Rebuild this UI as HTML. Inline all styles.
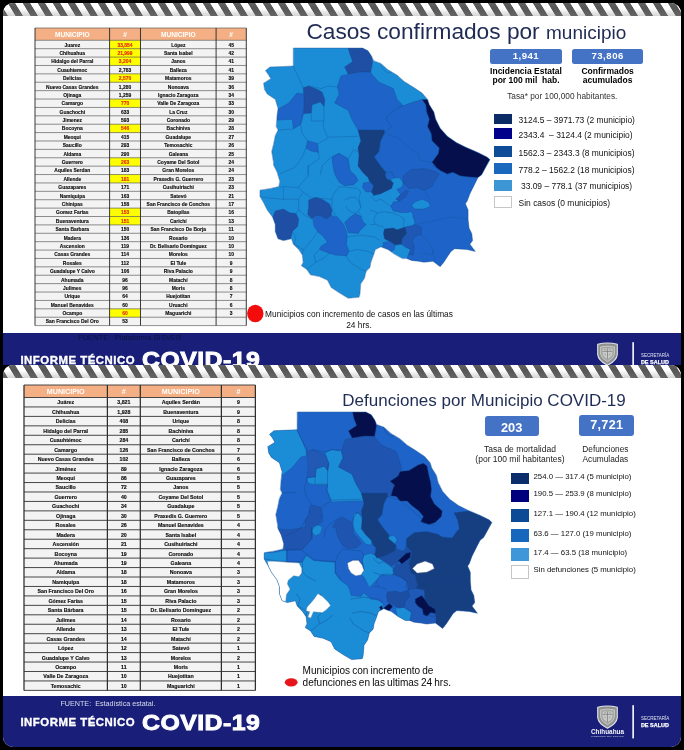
<!DOCTYPE html>
<html lang="es"><head><meta charset="utf-8"><title>Informe Técnico COVID-19</title>
<style>
html,body{margin:0;padding:0;background:#000;}
body{width:684px;height:750px;position:relative;overflow:hidden;font-family:"Liberation Sans",Arial,sans-serif;color:#000;}
.slide{position:absolute;left:3px;width:678px;background:#fff;border-radius:10px;overflow:hidden;}
.in{position:absolute;left:-3px;width:684px;}
.stripes{position:absolute;left:0;top:0;width:686px;height:12.8px;
 background:linear-gradient(to bottom,rgba(255,255,255,.06) 0,rgba(150,150,150,.0) 40%,rgba(130,130,130,.35) 100%),
 repeating-linear-gradient(58.7deg,#565656 0,#565656 5.6px,#fff 6.3px,#fff 12.12px,#565656 12.82px);}
.abs{position:absolute;}
svg.tbl{position:absolute;overflow:visible;}
svg.tbl text{font-family:"Liberation Sans",Arial,sans-serif;font-weight:bold;text-anchor:middle;}
svg.tbl .th{fill:#fff;}
svg.tbl .td{fill:#0c0c0c;stroke:#0c0c0c;stroke-width:.14px;}
svg.tbl .red{fill:#e22a0c;stroke:#e22a0c;}
.title{position:absolute;white-space:nowrap;color:#1f2a55;}
.box{position:absolute;background:#4472c4;border-radius:2.5px;color:#fff;font-weight:bold;text-align:center;}
.lbl{position:absolute;text-align:center;white-space:nowrap;}
.lb{position:absolute;}
.lt{position:absolute;white-space:nowrap;line-height:12px;color:#111;}
.banner{position:absolute;left:0;width:684px;background:#191f78;}
.inf{position:absolute;left:20.4px;color:#fff;font-weight:bold;font-size:11.4px;letter-spacing:.52px;line-height:14px;white-space:nowrap;-webkit-text-stroke:.35px #fff;}
.cov{position:absolute;left:142.2px;color:#fff;font-weight:bold;font-size:22.2px;letter-spacing:.4px;line-height:28px;white-space:nowrap;-webkit-text-stroke:.9px #fff;transform-origin:0 50%;transform:scaleX(1.12);}
.map{position:absolute;overflow:visible;}
</style></head><body>

<!-- slide 1 -->
<div class="slide" style="top:3px;height:362.2px;border-radius:10px 10px 0 0"><div class="in" style="top:-3px;height:750px">
<div class="stripes" style="left:0.6px;top:3px"></div>
<svg class="tbl" style="left:32.8px;top:26px" width="215.30" height="301.60" viewBox="32.8 26 215.30 301.60">
<rect x="34.8" y="28" width="211.30" height="12.30" fill="#f4b084"/>
<rect x="34.8" y="40.3" width="211.30" height="285.30" fill="#f3f3f3"/>
<rect x="109.4" y="40.30" width="30.90" height="8.39" fill="#ffff00"/>
<rect x="109.4" y="48.69" width="30.90" height="8.39" fill="#ffff00"/>
<rect x="109.4" y="57.08" width="30.90" height="8.39" fill="#ffff00"/>
<rect x="109.4" y="73.86" width="30.90" height="8.39" fill="#ffff00"/>
<rect x="109.4" y="99.04" width="30.90" height="8.39" fill="#ffff00"/>
<rect x="109.4" y="124.21" width="30.90" height="8.39" fill="#ffff00"/>
<rect x="109.4" y="157.78" width="30.90" height="8.39" fill="#ffff00"/>
<rect x="109.4" y="174.56" width="30.90" height="8.39" fill="#ffff00"/>
<rect x="109.4" y="208.12" width="30.90" height="8.39" fill="#ffff00"/>
<rect x="109.4" y="216.51" width="30.90" height="8.39" fill="#ffff00"/>
<rect x="109.4" y="308.82" width="30.90" height="8.39" fill="#ffff00"/>
<path d="M34.8 40.30H246.1M34.8 48.69H246.1M34.8 57.08H246.1M34.8 65.47H246.1M34.8 73.86H246.1M34.8 82.26H246.1M34.8 90.65H246.1M34.8 99.04H246.1M34.8 107.43H246.1M34.8 115.82H246.1M34.8 124.21H246.1M34.8 132.60H246.1M34.8 140.99H246.1M34.8 149.39H246.1M34.8 157.78H246.1M34.8 166.17H246.1M34.8 174.56H246.1M34.8 182.95H246.1M34.8 191.34H246.1M34.8 199.73H246.1M34.8 208.12H246.1M34.8 216.51H246.1M34.8 224.91H246.1M34.8 233.30H246.1M34.8 241.69H246.1M34.8 250.08H246.1M34.8 258.47H246.1M34.8 266.86H246.1M34.8 275.25H246.1M34.8 283.64H246.1M34.8 292.04H246.1M34.8 300.43H246.1M34.8 308.82H246.1M34.8 317.21H246.1M34.8 325.60H246.1M34.8 28H246.1" stroke="#444" stroke-width="0.6" fill="none"/>
<path d="M34.8 28V325.6M109.4 28V325.6M140.3 28V325.6M215.9 28V325.6M246.1 28V325.6" stroke="#2e2e2e" stroke-width="0.95" fill="none"/>
<text class="th" x="72.10" y="36.53" font-size="6.6">MUNICIPIO</text>
<text class="th" x="124.85" y="36.53" font-size="6.6">#</text>
<text class="th" x="178.10" y="36.53" font-size="6.6">MUNICIPIO</text>
<text class="th" x="231.00" y="36.53" font-size="6.6">#</text>
<text class="td" transform="translate(72.10 46.58) scale(0.855 1)" font-size="5.8">Juarez</text>
<text class="td red" transform="translate(124.85 46.58) scale(0.855 1)" font-size="5.8">33,854</text>
<text class="td" transform="translate(178.10 46.58) scale(0.855 1)" font-size="5.8">López</text>
<text class="td" transform="translate(231.00 46.58) scale(0.855 1)" font-size="5.8">45</text>
<text class="td" transform="translate(72.10 54.97) scale(0.855 1)" font-size="5.8">Chihuahua</text>
<text class="td red" transform="translate(124.85 54.97) scale(0.855 1)" font-size="5.8">21,999</text>
<text class="td" transform="translate(178.10 54.97) scale(0.855 1)" font-size="5.8">Santa Isabel</text>
<text class="td" transform="translate(231.00 54.97) scale(0.855 1)" font-size="5.8">42</text>
<text class="td" transform="translate(72.10 63.37) scale(0.855 1)" font-size="5.8">Hidalgo del Parral</text>
<text class="td red" transform="translate(124.85 63.37) scale(0.855 1)" font-size="5.8">3,204</text>
<text class="td" transform="translate(178.10 63.37) scale(0.855 1)" font-size="5.8">Janos</text>
<text class="td" transform="translate(231.00 63.37) scale(0.855 1)" font-size="5.8">41</text>
<text class="td" transform="translate(72.10 71.76) scale(0.855 1)" font-size="5.8">Cuauhtemoc</text>
<text class="td" transform="translate(124.85 71.76) scale(0.855 1)" font-size="5.8">2,783</text>
<text class="td" transform="translate(178.10 71.76) scale(0.855 1)" font-size="5.8">Balleza</text>
<text class="td" transform="translate(231.00 71.76) scale(0.855 1)" font-size="5.8">41</text>
<text class="td" transform="translate(72.10 80.15) scale(0.855 1)" font-size="5.8">Delicias</text>
<text class="td red" transform="translate(124.85 80.15) scale(0.855 1)" font-size="5.8">2,570</text>
<text class="td" transform="translate(178.10 80.15) scale(0.855 1)" font-size="5.8">Matamoros</text>
<text class="td" transform="translate(231.00 80.15) scale(0.855 1)" font-size="5.8">39</text>
<text class="td" transform="translate(72.10 88.54) scale(0.855 1)" font-size="5.8">Nuevo Casas Grandes</text>
<text class="td" transform="translate(124.85 88.54) scale(0.855 1)" font-size="5.8">1,280</text>
<text class="td" transform="translate(178.10 88.54) scale(0.855 1)" font-size="5.8">Nonoava</text>
<text class="td" transform="translate(231.00 88.54) scale(0.855 1)" font-size="5.8">36</text>
<text class="td" transform="translate(72.10 96.93) scale(0.855 1)" font-size="5.8">Ojinaga</text>
<text class="td" transform="translate(124.85 96.93) scale(0.855 1)" font-size="5.8">1,259</text>
<text class="td" transform="translate(178.10 96.93) scale(0.855 1)" font-size="5.8">Ignacio Zaragoza</text>
<text class="td" transform="translate(231.00 96.93) scale(0.855 1)" font-size="5.8">34</text>
<text class="td" transform="translate(72.10 105.32) scale(0.855 1)" font-size="5.8">Camargo</text>
<text class="td red" transform="translate(124.85 105.32) scale(0.855 1)" font-size="5.8">770</text>
<text class="td" transform="translate(178.10 105.32) scale(0.855 1)" font-size="5.8">Valle De Zaragoza</text>
<text class="td" transform="translate(231.00 105.32) scale(0.855 1)" font-size="5.8">33</text>
<text class="td" transform="translate(72.10 113.71) scale(0.855 1)" font-size="5.8">Guachochi</text>
<text class="td" transform="translate(124.85 113.71) scale(0.855 1)" font-size="5.8">633</text>
<text class="td" transform="translate(178.10 113.71) scale(0.855 1)" font-size="5.8">La Cruz</text>
<text class="td" transform="translate(231.00 113.71) scale(0.855 1)" font-size="5.8">30</text>
<text class="td" transform="translate(72.10 122.10) scale(0.855 1)" font-size="5.8">Jimenez</text>
<text class="td" transform="translate(124.85 122.10) scale(0.855 1)" font-size="5.8">593</text>
<text class="td" transform="translate(178.10 122.10) scale(0.855 1)" font-size="5.8">Coronado</text>
<text class="td" transform="translate(231.00 122.10) scale(0.855 1)" font-size="5.8">29</text>
<text class="td" transform="translate(72.10 130.50) scale(0.855 1)" font-size="5.8">Bocoyna</text>
<text class="td red" transform="translate(124.85 130.50) scale(0.855 1)" font-size="5.8">546</text>
<text class="td" transform="translate(178.10 130.50) scale(0.855 1)" font-size="5.8">Bachíniva</text>
<text class="td" transform="translate(231.00 130.50) scale(0.855 1)" font-size="5.8">28</text>
<text class="td" transform="translate(72.10 138.89) scale(0.855 1)" font-size="5.8">Meoqui</text>
<text class="td" transform="translate(124.85 138.89) scale(0.855 1)" font-size="5.8">415</text>
<text class="td" transform="translate(178.10 138.89) scale(0.855 1)" font-size="5.8">Guadalupe</text>
<text class="td" transform="translate(231.00 138.89) scale(0.855 1)" font-size="5.8">27</text>
<text class="td" transform="translate(72.10 147.28) scale(0.855 1)" font-size="5.8">Saucillo</text>
<text class="td" transform="translate(124.85 147.28) scale(0.855 1)" font-size="5.8">293</text>
<text class="td" transform="translate(178.10 147.28) scale(0.855 1)" font-size="5.8">Temosachic</text>
<text class="td" transform="translate(231.00 147.28) scale(0.855 1)" font-size="5.8">26</text>
<text class="td" transform="translate(72.10 155.67) scale(0.855 1)" font-size="5.8">Aldama</text>
<text class="td" transform="translate(124.85 155.67) scale(0.855 1)" font-size="5.8">290</text>
<text class="td" transform="translate(178.10 155.67) scale(0.855 1)" font-size="5.8">Galeana</text>
<text class="td" transform="translate(231.00 155.67) scale(0.855 1)" font-size="5.8">25</text>
<text class="td" transform="translate(72.10 164.06) scale(0.855 1)" font-size="5.8">Guerrero</text>
<text class="td red" transform="translate(124.85 164.06) scale(0.855 1)" font-size="5.8">263</text>
<text class="td" transform="translate(178.10 164.06) scale(0.855 1)" font-size="5.8">Coyame Del Sotol</text>
<text class="td" transform="translate(231.00 164.06) scale(0.855 1)" font-size="5.8">24</text>
<text class="td" transform="translate(72.10 172.45) scale(0.855 1)" font-size="5.8">Aquiles Serdan</text>
<text class="td" transform="translate(124.85 172.45) scale(0.855 1)" font-size="5.8">183</text>
<text class="td" transform="translate(178.10 172.45) scale(0.855 1)" font-size="5.8">Gran Morelos</text>
<text class="td" transform="translate(231.00 172.45) scale(0.855 1)" font-size="5.8">24</text>
<text class="td" transform="translate(72.10 180.84) scale(0.855 1)" font-size="5.8">Allende</text>
<text class="td red" transform="translate(124.85 180.84) scale(0.855 1)" font-size="5.8">181</text>
<text class="td" transform="translate(178.10 180.84) scale(0.855 1)" font-size="5.8">Praxedis G. Guerrero</text>
<text class="td" transform="translate(231.00 180.84) scale(0.855 1)" font-size="5.8">23</text>
<text class="td" transform="translate(72.10 189.23) scale(0.855 1)" font-size="5.8">Guazapares</text>
<text class="td" transform="translate(124.85 189.23) scale(0.855 1)" font-size="5.8">171</text>
<text class="td" transform="translate(178.10 189.23) scale(0.855 1)" font-size="5.8">Cusihuiriachi</text>
<text class="td" transform="translate(231.00 189.23) scale(0.855 1)" font-size="5.8">23</text>
<text class="td" transform="translate(72.10 197.62) scale(0.855 1)" font-size="5.8">Namiquipa</text>
<text class="td" transform="translate(124.85 197.62) scale(0.855 1)" font-size="5.8">163</text>
<text class="td" transform="translate(178.10 197.62) scale(0.855 1)" font-size="5.8">Satevó</text>
<text class="td" transform="translate(231.00 197.62) scale(0.855 1)" font-size="5.8">21</text>
<text class="td" transform="translate(72.10 206.02) scale(0.855 1)" font-size="5.8">Chinipas</text>
<text class="td" transform="translate(124.85 206.02) scale(0.855 1)" font-size="5.8">158</text>
<text class="td" transform="translate(178.10 206.02) scale(0.855 1)" font-size="5.8">San Francisco de Conchos</text>
<text class="td" transform="translate(231.00 206.02) scale(0.855 1)" font-size="5.8">17</text>
<text class="td" transform="translate(72.10 214.41) scale(0.855 1)" font-size="5.8">Gomez Farias</text>
<text class="td red" transform="translate(124.85 214.41) scale(0.855 1)" font-size="5.8">153</text>
<text class="td" transform="translate(178.10 214.41) scale(0.855 1)" font-size="5.8">Batopilas</text>
<text class="td" transform="translate(231.00 214.41) scale(0.855 1)" font-size="5.8">16</text>
<text class="td" transform="translate(72.10 222.80) scale(0.855 1)" font-size="5.8">Buenaventura</text>
<text class="td red" transform="translate(124.85 222.80) scale(0.855 1)" font-size="5.8">151</text>
<text class="td" transform="translate(178.10 222.80) scale(0.855 1)" font-size="5.8">Carichí</text>
<text class="td" transform="translate(231.00 222.80) scale(0.855 1)" font-size="5.8">13</text>
<text class="td" transform="translate(72.10 231.19) scale(0.855 1)" font-size="5.8">Santa Barbara</text>
<text class="td" transform="translate(124.85 231.19) scale(0.855 1)" font-size="5.8">150</text>
<text class="td" transform="translate(178.10 231.19) scale(0.855 1)" font-size="5.8">San Francisco De Borja</text>
<text class="td" transform="translate(231.00 231.19) scale(0.855 1)" font-size="5.8">11</text>
<text class="td" transform="translate(72.10 239.58) scale(0.855 1)" font-size="5.8">Madera</text>
<text class="td" transform="translate(124.85 239.58) scale(0.855 1)" font-size="5.8">136</text>
<text class="td" transform="translate(178.10 239.58) scale(0.855 1)" font-size="5.8">Rosario</text>
<text class="td" transform="translate(231.00 239.58) scale(0.855 1)" font-size="5.8">10</text>
<text class="td" transform="translate(72.10 247.97) scale(0.855 1)" font-size="5.8">Ascension</text>
<text class="td" transform="translate(124.85 247.97) scale(0.855 1)" font-size="5.8">119</text>
<text class="td" transform="translate(178.10 247.97) scale(0.855 1)" font-size="5.8">Dr. Belisario Domínguez</text>
<text class="td" transform="translate(231.00 247.97) scale(0.855 1)" font-size="5.8">10</text>
<text class="td" transform="translate(72.10 256.36) scale(0.855 1)" font-size="5.8">Casas Grandes</text>
<text class="td" transform="translate(124.85 256.36) scale(0.855 1)" font-size="5.8">114</text>
<text class="td" transform="translate(178.10 256.36) scale(0.855 1)" font-size="5.8">Morelos</text>
<text class="td" transform="translate(231.00 256.36) scale(0.855 1)" font-size="5.8">10</text>
<text class="td" transform="translate(72.10 264.75) scale(0.855 1)" font-size="5.8">Rosales</text>
<text class="td" transform="translate(124.85 264.75) scale(0.855 1)" font-size="5.8">112</text>
<text class="td" transform="translate(178.10 264.75) scale(0.855 1)" font-size="5.8">El Tule</text>
<text class="td" transform="translate(231.00 264.75) scale(0.855 1)" font-size="5.8">9</text>
<text class="td" transform="translate(72.10 273.15) scale(0.855 1)" font-size="5.8">Guadalupe Y Calvo</text>
<text class="td" transform="translate(124.85 273.15) scale(0.855 1)" font-size="5.8">106</text>
<text class="td" transform="translate(178.10 273.15) scale(0.855 1)" font-size="5.8">Riva Palacio</text>
<text class="td" transform="translate(231.00 273.15) scale(0.855 1)" font-size="5.8">9</text>
<text class="td" transform="translate(72.10 281.54) scale(0.855 1)" font-size="5.8">Ahumada</text>
<text class="td" transform="translate(124.85 281.54) scale(0.855 1)" font-size="5.8">96</text>
<text class="td" transform="translate(178.10 281.54) scale(0.855 1)" font-size="5.8">Matachí</text>
<text class="td" transform="translate(231.00 281.54) scale(0.855 1)" font-size="5.8">8</text>
<text class="td" transform="translate(72.10 289.93) scale(0.855 1)" font-size="5.8">Julimes</text>
<text class="td" transform="translate(124.85 289.93) scale(0.855 1)" font-size="5.8">96</text>
<text class="td" transform="translate(178.10 289.93) scale(0.855 1)" font-size="5.8">Moris</text>
<text class="td" transform="translate(231.00 289.93) scale(0.855 1)" font-size="5.8">8</text>
<text class="td" transform="translate(72.10 298.32) scale(0.855 1)" font-size="5.8">Urique</text>
<text class="td" transform="translate(124.85 298.32) scale(0.855 1)" font-size="5.8">64</text>
<text class="td" transform="translate(178.10 298.32) scale(0.855 1)" font-size="5.8">Huejotitan</text>
<text class="td" transform="translate(231.00 298.32) scale(0.855 1)" font-size="5.8">7</text>
<text class="td" transform="translate(72.10 306.71) scale(0.855 1)" font-size="5.8">Manuel Benavides</text>
<text class="td" transform="translate(124.85 306.71) scale(0.855 1)" font-size="5.8">60</text>
<text class="td" transform="translate(178.10 306.71) scale(0.855 1)" font-size="5.8">Uruachi</text>
<text class="td" transform="translate(231.00 306.71) scale(0.855 1)" font-size="5.8">6</text>
<text class="td" transform="translate(72.10 315.10) scale(0.855 1)" font-size="5.8">Ocampo</text>
<text class="td red" transform="translate(124.85 315.10) scale(0.855 1)" font-size="5.8">60</text>
<text class="td" transform="translate(178.10 315.10) scale(0.855 1)" font-size="5.8">Maguarichi</text>
<text class="td" transform="translate(231.00 315.10) scale(0.855 1)" font-size="5.8">3</text>
<text class="td" transform="translate(72.10 323.49) scale(0.855 1)" font-size="5.8">San Francisco Del Oro</text>
<text class="td" transform="translate(124.85 323.49) scale(0.855 1)" font-size="5.8">53</text>
</svg>
<div class="title" style="left:306.4px;top:17.6px;font-size:22.7px;line-height:26px">Casos confirmados por <span style="font-size:19px">municipio</span></div>
<svg class="map" style="left:255px;top:44px" width="240" height="260" viewBox="255 44 240 260">
<defs><clipPath id="c1"><path d="M293.3 48.1L362.6 48.1L368.0 50.8L371.6 56.2L373.6 60.7L380.8 63.4L388.0 69.7L397.0 75.1L404.2 81.4L413.2 87.1L422.2 93.1L427.6 99.4L429.4 104.8L433.9 112.0L435.7 119.2L440.2 128.2L447.4 136.3L456.4 142.6L465.4 147.1L478.0 152.5L487.0 157.0L490.0 159.6L487.0 165.0L481.6 174.9L478.0 177.6L474.4 184.8L469.9 193.8L467.2 201.0L465.4 203.7L468.1 210.0L468.1 219.0L469.0 228.0L471.7 233.4L472.6 240.6L469.9 244.2L475.3 251.4L467.2 249.6L454.6 248.7L451.0 251.4L447.4 256.8L443.8 262.2L440.2 266.7L433.0 261.3L424.0 262.2L418.6 261.3L411.4 260.4L406.9 258.6L402.4 258.6L394.3 254.1L388.0 249.6L380.8 246.9L375.4 249.6L373.6 255.0L370.9 262.2L370.0 267.6L366.2 271.2L364.4 278.4L360.8 283.8L359.9 294.6L359.0 297.3L348.2 298.2L339.2 292.8L331.1 287.4L327.5 280.2L319.4 276.6L310.4 274.8L306.8 269.4L301.4 265.8L303.2 262.2L302.3 255.0L298.7 249.6L293.3 244.2L291.5 238.8L283.4 240.6L278.0 238.8L275.3 231.6L275.3 224.4L272.6 217.2L267.2 210.0L263.6 202.8L260.0 196.5L260.0 190.2L270.8 188.4L278.9 186.6L279.8 181.2L277.1 172.2L273.5 165.0L273.5 162.3L271.7 151.6L273.5 144.4L275.3 135.4L278.0 130.0L276.2 126.4L277.1 115.6L278.0 108.4L275.3 99.4L267.2 94.0L264.5 89.5L263.6 83.2L270.8 78.7L268.1 74.2L265.4 70.6L269.9 67.0L293.3 66.1Z"/></clipPath></defs>
<g clip-path="url(#c1)">
<path d="M293.3 48.1L362.6 48.1L368.0 50.8L371.6 56.2L373.6 60.7L380.8 63.4L388.0 69.7L397.0 75.1L404.2 81.4L413.2 87.1L422.2 93.1L427.6 99.4L429.4 104.8L433.9 112.0L435.7 119.2L440.2 128.2L447.4 136.3L456.4 142.6L465.4 147.1L478.0 152.5L487.0 157.0L490.0 159.6L487.0 165.0L481.6 174.9L478.0 177.6L474.4 184.8L469.9 193.8L467.2 201.0L465.4 203.7L468.1 210.0L468.1 219.0L469.0 228.0L471.7 233.4L472.6 240.6L469.9 244.2L475.3 251.4L467.2 249.6L454.6 248.7L451.0 251.4L447.4 256.8L443.8 262.2L440.2 266.7L433.0 261.3L424.0 262.2L418.6 261.3L411.4 260.4L406.9 258.6L402.4 258.6L394.3 254.1L388.0 249.6L380.8 246.9L375.4 249.6L373.6 255.0L370.9 262.2L370.0 267.6L366.2 271.2L364.4 278.4L360.8 283.8L359.9 294.6L359.0 297.3L348.2 298.2L339.2 292.8L331.1 287.4L327.5 280.2L319.4 276.6L310.4 274.8L306.8 269.4L301.4 265.8L303.2 262.2L302.3 255.0L298.7 249.6L293.3 244.2L291.5 238.8L283.4 240.6L278.0 238.8L275.3 231.6L275.3 224.4L272.6 217.2L267.2 210.0L263.6 202.8L260.0 196.5L260.0 190.2L270.8 188.4L278.9 186.6L279.8 181.2L277.1 172.2L273.5 165.0L273.5 162.3L271.7 151.6L273.5 144.4L275.3 135.4L278.0 130.0L276.2 126.4L277.1 115.6L278.0 108.4L275.3 99.4L267.2 94.0L264.5 89.5L263.6 83.2L270.8 78.7L268.1 74.2L265.4 70.6L269.9 67.0L293.3 66.1Z" fill="#1b8cd6"/>
<path d="M348.2 48.1L362.6 48.1L368.0 50.8L371.6 56.2L372.5 62.5L370.7 72.4L360.8 72.0L348.2 74.2L344.6 67.0L352.7 61.6L350.0 54.4Z" fill="#1f4fa5" stroke="#134a8e" stroke-width="0.35" stroke-linejoin="round"/>
<path d="M341.0 76.0L348.2 74.2L360.8 72.0L370.7 72.4L371.8 74.2L379.0 82.3L393.4 88.6L397.0 99.4L403.3 105.7L397.0 108.4L388.0 115.6L386.2 119.2L391.6 126.4L386.2 131.8L384.4 133.6L370.0 130.0L358.1 130.0L351.8 119.2L348.2 110.2L334.7 103.0L339.2 94.0L337.4 86.8Z" fill="#1e64c8" stroke="#134a8e" stroke-width="0.35" stroke-linejoin="round"/>
<path d="M303.2 87.7L308.6 85.9L317.6 89.5L322.1 92.2L324.8 99.4L323.9 106.6L320.3 102.1L312.2 104.8L311.3 112.9L303.2 113.8L304.1 101.2Z" fill="#1f4fa5" stroke="#134a8e" stroke-width="0.35" stroke-linejoin="round"/>
<path d="M296.9 93.1L303.2 94.0L304.1 101.2L303.2 113.8L300.5 124.6L293.3 129.1L292.4 119.2L277.1 120.1L278.0 109.3L288.8 103.0Z" fill="#1e64c8" stroke="#134a8e" stroke-width="0.35" stroke-linejoin="round"/>
<path d="M307.7 140.8L317.6 143.5L318.5 152.5L310.4 150.7L305.9 148.0Z" fill="#1e64c8" stroke="#134a8e" stroke-width="0.35" stroke-linejoin="round"/>
<path d="M358.0 130.0L384.4 130.0L384.4 133.6L380.8 140.8L379.0 151.6L374.5 157.0L380.8 166.0L386.2 172.2L385.3 175.8L389.8 179.4L393.4 183.0L391.6 188.4L380.8 193.8L373.6 195.6L371.5 192.0L373.3 185.7L369.8 182.1L368.0 177.6L362.6 172.2L358.0 166.0L359.0 155.2L358.0 148.0L360.8 140.8Z" fill="#173f80" stroke="#134a8e" stroke-width="0.35" stroke-linejoin="round"/>
<path d="M332.0 156.9L339.2 153.3L348.2 158.7L350.0 170.4L355.4 175.8L358.1 180.3L353.6 184.8L344.6 185.7L339.2 182.1L335.6 175.8L333.8 170.4L332.9 165.0Z" fill="#1e64c8" stroke="#134a8e" stroke-width="0.35" stroke-linejoin="round"/>
<path d="M403.3 105.7L413.2 102.1L422.2 99.4L425.8 104.8L426.7 112.0L429.4 119.2L427.6 126.4L431.2 133.6L432.1 140.8L439.3 148.0L438.4 153.4L432.1 162.3L438.4 169.5L440.2 170.4L447.4 174.0L452.8 172.2L460.0 175.8L467.2 176.7L478.0 177.6L474.4 184.8L469.9 193.8L467.2 201.0L465.4 203.7L468.1 210.0L468.1 219.0L469.0 228.0L471.7 233.4L472.6 240.6L469.9 244.2L475.3 251.4L467.2 249.6L454.6 248.7L451.0 251.4L447.4 256.8L443.8 262.2L440.2 266.7L433.0 261.3L424.0 262.2L418.6 261.3L411.4 260.4L406.9 258.6L408.7 254.1L413.2 255.0L414.1 246.0L412.3 240.6L415.0 236.1L421.3 234.3L421.3 227.1L413.2 225.3L415.0 222.6L413.2 217.2L412.3 211.8L402.4 212.7L393.4 210.9L390.7 206.4L393.4 201.9L399.7 201.0L396.1 199.2L400.6 194.7L397.0 189.3L401.5 187.5L403.3 183.0L399.7 177.6L394.3 178.0L391.6 172.2L386.2 172.2L380.8 165.9L374.5 156.9L379.0 151.6L380.8 140.8L384.4 133.6L386.2 131.8L391.6 126.4L386.2 119.2L388.0 115.6L397.0 108.4Z" fill="#1e64c8" stroke="#134a8e" stroke-width="0.35" stroke-linejoin="round"/>
<path d="M422.2 99.4L427.6 99.4L429.4 104.8L433.9 112.0L435.7 119.2L440.2 128.2L447.4 136.3L456.4 142.6L465.4 147.1L478.0 152.5L486.9 156.9L490.0 159.6L486.9 165.0L481.6 174.9L478.0 177.6L467.2 176.7L460.0 175.8L452.8 172.2L447.4 174.0L440.2 170.4L433.0 165.0L438.4 169.5L432.1 162.3L438.4 153.4L439.3 148.0L432.1 140.8L431.2 133.6L427.6 126.4L429.4 119.2L426.7 112.0L425.8 104.8Z" fill="#050f4b" stroke="#134a8e" stroke-width="0.35" stroke-linejoin="round"/>
<path d="M403.3 175.8L411.4 169.5L424.0 168.6L434.8 171.3L439.3 174.0L434.8 181.2L432.1 186.6L424.0 190.2L416.8 187.5L408.7 188.4L403.3 183.0Z" fill="#1f58b4" stroke="#134a8e" stroke-width="0.35" stroke-linejoin="round"/>
<path d="M396.1 199.2L400.6 194.7L406.0 190.2L408.7 191.1L406.0 196.5L399.7 201.0Z" fill="#1f58b4" stroke="#134a8e" stroke-width="0.35" stroke-linejoin="round"/>
<path d="M411.4 205.5L415.0 201.9L422.2 199.2L428.5 201.9L430.3 206.4L424.0 209.1L415.0 209.1Z" fill="#1b8cd6" stroke="#134a8e" stroke-width="0.35" stroke-linejoin="round"/>
<path d="M385.3 173.1L391.6 172.2L394.3 177.6L389.8 180.3L386.2 178.5Z" fill="#1e64c8" stroke="#134a8e" stroke-width="0.35" stroke-linejoin="round"/>
<path d="M384.4 228.9L393.4 228.0L397.0 229.8L405.1 227.1L406.9 233.4L402.4 238.8L401.5 244.2L395.2 245.1L389.8 241.5L384.4 238.8L383.5 233.4Z" fill="#173f80" stroke="#134a8e" stroke-width="0.35" stroke-linejoin="round"/>
<path d="M405.1 227.1L413.2 225.3L421.3 227.1L421.3 234.3L415.0 236.1L412.3 240.6L414.1 246.0L413.2 255.0L408.7 254.1L410.5 249.6L405.1 246.9L401.5 244.2L402.4 238.8L406.9 233.4Z" fill="#1f58b4" stroke="#134a8e" stroke-width="0.35" stroke-linejoin="round"/>
<path d="M383.5 242.4L389.8 241.5L395.2 245.1L394.3 249.6L391.6 251.4L388.0 249.6L382.6 246.9Z" fill="#1e64c8" stroke="#134a8e" stroke-width="0.35" stroke-linejoin="round"/>
<path d="M275.3 210.9L283.4 209.1L289.7 212.7L296.0 213.6L298.7 219.0L297.8 226.2L292.4 231.6L290.6 238.8L283.4 240.6L278.0 238.8L275.3 231.6L275.3 224.4L272.6 217.2Z" fill="#1f4fa5" stroke="#134a8e" stroke-width="0.35" stroke-linejoin="round"/>
<path d="M308.6 200.1L315.8 197.4L322.1 199.2L329.3 203.7L332.0 210.0L331.1 215.4L326.6 219.0L321.2 216.3L315.8 215.4L312.2 219.0L307.7 214.5L308.6 207.3Z" fill="#1f4fa5" stroke="#134a8e" stroke-width="0.35" stroke-linejoin="round"/>
<path d="M315.8 215.4L321.2 216.3L326.6 219.0L331.1 215.4L337.4 217.2L343.7 224.4L346.4 231.6L347.3 237.0L346.4 244.2L349.1 251.4L346.4 255.9L335.6 255.0L329.3 253.2L319.4 249.6L321.2 246.0L327.5 242.4L323.9 237.0L317.6 231.6L314.0 226.2L313.1 219.9Z" fill="#1e64c8" stroke="#134a8e" stroke-width="0.35" stroke-linejoin="round"/>
<path d="M344.6 222.6L350.0 217.2L355.4 213.6L360.8 216.3L363.5 222.6L366.2 224.4L360.8 229.8L358.1 233.4L348.2 232.5L346.4 226.2Z" fill="#1e64c8" stroke="#134a8e" stroke-width="0.35" stroke-linejoin="round"/>
<path d="M363.5 183.0L369.8 182.1L373.4 185.7L371.6 192.0L366.2 192.0L362.6 187.5Z" fill="#1e64c8" stroke="#134a8e" stroke-width="0.35" stroke-linejoin="round"/>
<path d="M293.3 66.1L296.0 72.4L298.7 77.8L303.2 87.7" fill="none" stroke="#14539a" stroke-width="0.35" stroke-linejoin="round"/>
<path d="M308.6 85.9L321.2 88.6L328.4 85.9L335.6 86.8L337.4 86.8" fill="none" stroke="#14539a" stroke-width="0.35" stroke-linejoin="round"/>
<path d="M324.8 99.4L323.9 106.6L323.9 121.0L311.3 121.0L311.3 112.9" fill="none" stroke="#14539a" stroke-width="0.35" stroke-linejoin="round"/>
<path d="M303.2 113.8L302.3 119.2L300.5 124.6L302.3 133.6L307.7 140.8" fill="none" stroke="#14539a" stroke-width="0.35" stroke-linejoin="round"/>
<path d="M323.9 121.0L323.0 126.4L327.5 137.2L358.1 136.3" fill="none" stroke="#14539a" stroke-width="0.35" stroke-linejoin="round"/>
<path d="M327.5 138.1L318.5 143.5" fill="none" stroke="#14539a" stroke-width="0.35" stroke-linejoin="round"/>
<path d="M318.5 152.5L319.4 158.7L314.0 162.3L308.6 165.9L307.7 174.9" fill="none" stroke="#14539a" stroke-width="0.35" stroke-linejoin="round"/>
<path d="M305.9 148.0L303.2 155.1L298.7 162.3L294.2 167.7L279.8 174.0" fill="none" stroke="#14539a" stroke-width="0.35" stroke-linejoin="round"/>
<path d="M339.2 153.4L332.0 156.9L328.4 159.6L322.1 165.9L320.3 174.9" fill="none" stroke="#14539a" stroke-width="0.35" stroke-linejoin="round"/>
<path d="M348.2 158.7L353.6 149.8L358.1 151.6" fill="none" stroke="#14539a" stroke-width="0.35" stroke-linejoin="round"/>
<path d="M278.0 130.0L292.4 129.1" fill="none" stroke="#14539a" stroke-width="0.35" stroke-linejoin="round"/>
<path d="M384.4 133.6L397.0 137.2L406.0 144.4L418.6 155.1L420.4 160.5L432.1 162.3" fill="none" stroke="#14539a" stroke-width="0.35" stroke-linejoin="round"/>
<path d="M380.8 63.4L382.6 68.8L388.0 73.3L391.6 71.5" fill="none" stroke="#14539a" stroke-width="0.35" stroke-linejoin="round"/>
<path d="M413.2 225.3L424.0 222.6L431.2 221.7L449.2 217.2L468.1 219.0" fill="none" stroke="#14539a" stroke-width="0.35" stroke-linejoin="round"/>
<path d="M421.3 234.3L429.4 244.2L433.0 249.6L432.1 255.0L424.0 253.2L421.3 253.2" fill="none" stroke="#14539a" stroke-width="0.35" stroke-linejoin="round"/>
<path d="M433.0 249.6L434.8 258.6L433.0 261.3" fill="none" stroke="#14539a" stroke-width="0.35" stroke-linejoin="round"/>
<path d="M424.0 190.2L427.6 196.5L430.3 200.1" fill="none" stroke="#14539a" stroke-width="0.35" stroke-linejoin="round"/>
<path d="M370.0 210.0L377.2 212.7L384.4 211.8L391.6 212.7L398.8 215.4L404.2 219.0L403.3 226.2" fill="none" stroke="#14539a" stroke-width="0.35" stroke-linejoin="round"/>
<path d="M377.2 212.7L373.6 219.0L375.4 224.4L383.5 227.1" fill="none" stroke="#14539a" stroke-width="0.35" stroke-linejoin="round"/>
<path d="M370.0 224.4L375.4 224.4" fill="none" stroke="#14539a" stroke-width="0.35" stroke-linejoin="round"/>
<path d="M370.0 195.6L375.4 201.0L380.8 199.2L390.7 206.4" fill="none" stroke="#14539a" stroke-width="0.35" stroke-linejoin="round"/>
<path d="M279.8 187.5L283.4 186.6L297.8 187.5L308.6 175.8L307.7 165.0" fill="none" stroke="#14539a" stroke-width="0.35" stroke-linejoin="round"/>
<path d="M297.8 187.5L303.2 192.0L310.4 197.4L319.4 198.3L332.0 199.2L333.8 193.8L339.2 186.6L357.2 188.4" fill="none" stroke="#14539a" stroke-width="0.35" stroke-linejoin="round"/>
<path d="M283.4 187.5L283.4 199.2L298.7 199.2L303.2 192.0" fill="none" stroke="#14539a" stroke-width="0.35" stroke-linejoin="round"/>
<path d="M298.7 199.2L298.7 210.0L296.0 213.6" fill="none" stroke="#14539a" stroke-width="0.35" stroke-linejoin="round"/>
<path d="M298.7 210.0L305.0 215.4L312.2 219.0" fill="none" stroke="#14539a" stroke-width="0.35" stroke-linejoin="round"/>
<path d="M260.0 196.5L270.8 198.3L283.4 199.2" fill="none" stroke="#14539a" stroke-width="0.35" stroke-linejoin="round"/>
<path d="M332.0 199.2L332.0 210.0L337.4 217.2" fill="none" stroke="#14539a" stroke-width="0.35" stroke-linejoin="round"/>
<path d="M357.2 188.4L360.8 192.0L359.0 197.4L360.8 207.3L358.1 211.8L362.6 217.2" fill="none" stroke="#14539a" stroke-width="0.35" stroke-linejoin="round"/>
<path d="M292.4 231.6L296.0 237.0L294.2 244.2L303.2 249.6L302.3 255.0" fill="none" stroke="#14539a" stroke-width="0.35" stroke-linejoin="round"/>
<path d="M303.2 249.6L308.6 244.2L314.0 237.0L317.6 231.6" fill="none" stroke="#14539a" stroke-width="0.35" stroke-linejoin="round"/>
<path d="M319.4 249.6L314.0 255.0L315.8 262.2L306.8 269.4" fill="none" stroke="#14539a" stroke-width="0.35" stroke-linejoin="round"/>
<path d="M315.8 262.2L323.0 258.6L327.5 255.0L329.3 253.2" fill="none" stroke="#14539a" stroke-width="0.35" stroke-linejoin="round"/>
<path d="M346.4 255.9L350.0 262.2L360.8 269.4L366.2 271.2" fill="none" stroke="#14539a" stroke-width="0.35" stroke-linejoin="round"/>
<path d="M349.1 251.4L357.2 249.6L368.0 251.4L375.1 255.0" fill="none" stroke="#14539a" stroke-width="0.35" stroke-linejoin="round"/>
<path d="M347.3 237.0L360.8 235.2L368.0 236.1L375.1 237.0L380.0 240.6" fill="none" stroke="#14539a" stroke-width="0.35" stroke-linejoin="round"/>
<path d="M344.6 200.1L350.0 197.4L355.4 197.4L359.0 201.9L360.8 207.3" fill="none" stroke="#14539a" stroke-width="0.35" stroke-linejoin="round"/>
<path d="M345.5 205.5L348.2 210.0L352.7 212.7L358.1 211.8" fill="none" stroke="#14539a" stroke-width="0.35" stroke-linejoin="round"/>
</g>
<path d="M293.3 48.1L362.6 48.1L368.0 50.8L371.6 56.2L373.6 60.7L380.8 63.4L388.0 69.7L397.0 75.1L404.2 81.4L413.2 87.1L422.2 93.1L427.6 99.4L429.4 104.8L433.9 112.0L435.7 119.2L440.2 128.2L447.4 136.3L456.4 142.6L465.4 147.1L478.0 152.5L487.0 157.0L490.0 159.6L487.0 165.0L481.6 174.9L478.0 177.6L474.4 184.8L469.9 193.8L467.2 201.0L465.4 203.7L468.1 210.0L468.1 219.0L469.0 228.0L471.7 233.4L472.6 240.6L469.9 244.2L475.3 251.4L467.2 249.6L454.6 248.7L451.0 251.4L447.4 256.8L443.8 262.2L440.2 266.7L433.0 261.3L424.0 262.2L418.6 261.3L411.4 260.4L406.9 258.6L402.4 258.6L394.3 254.1L388.0 249.6L380.8 246.9L375.4 249.6L373.6 255.0L370.9 262.2L370.0 267.6L366.2 271.2L364.4 278.4L360.8 283.8L359.9 294.6L359.0 297.3L348.2 298.2L339.2 292.8L331.1 287.4L327.5 280.2L319.4 276.6L310.4 274.8L306.8 269.4L301.4 265.8L303.2 262.2L302.3 255.0L298.7 249.6L293.3 244.2L291.5 238.8L283.4 240.6L278.0 238.8L275.3 231.6L275.3 224.4L272.6 217.2L267.2 210.0L263.6 202.8L260.0 196.5L260.0 190.2L270.8 188.4L278.9 186.6L279.8 181.2L277.1 172.2L273.5 165.0L273.5 162.3L271.7 151.6L273.5 144.4L275.3 135.4L278.0 130.0L276.2 126.4L277.1 115.6L278.0 108.4L275.3 99.4L267.2 94.0L264.5 89.5L263.6 83.2L270.8 78.7L268.1 74.2L265.4 70.6L269.9 67.0L293.3 66.1Z" fill="none" stroke="#2a5f9e" stroke-width="0.5" stroke-linejoin="round"/>
</svg>
<div class="box" style="left:490.3px;top:48.5px;width:71.3px;height:15.4px;font-size:9.6px;line-height:14.2px;letter-spacing:.5px">1,941</div>
<div class="box" style="left:572.2px;top:48.5px;width:70.9px;height:15.4px;font-size:9.6px;line-height:14.2px;letter-spacing:.5px">73,806</div>
<div class="lbl" style="left:476px;width:100px;top:67.1px;font-size:8.5px;line-height:9.1px;font-weight:bold">Incidencia Estatal<br>por 100 mil&nbsp; hab.</div>
<div class="lbl" style="left:557.6px;width:100px;top:67.1px;font-size:8.5px;line-height:9.1px;font-weight:bold">Confirmados<br>acumulados</div>
<div class="lbl" style="left:462.3px;width:200px;top:91.2px;font-size:8.3px;line-height:10px;color:#333">Tasa* por 100,000 habitantes.</div>
<div class="lb" style="left:494.2px;top:113.5px;width:18.0px;height:10.1px;background:#0b2b66;"></div>
<div class="lt" style="left:518.6px;top:113.9px;font-size:8.45px">3124.5 – 3971.73 (2 municipio)</div>
<div class="lb" style="left:494.2px;top:128.2px;width:18.0px;height:11.0px;background:#00008b;"></div>
<div class="lt" style="left:518.6px;top:129.2px;font-size:8.45px">2343.4&nbsp; – 3124.4 (2 municipio)</div>
<div class="lb" style="left:494.2px;top:145.8px;width:18.0px;height:11.2px;background:#0e4c98;"></div>
<div class="lt" style="left:518.6px;top:146.9px;font-size:8.45px">1562.3 – 2343.3 (8 municipios)</div>
<div class="lb" style="left:494.2px;top:163.3px;width:18.0px;height:11.1px;background:#1968bd;"></div>
<div class="lt" style="left:518.6px;top:164.0px;font-size:8.45px">778.2 – 1562.2 (18 municipios)</div>
<div class="lb" style="left:494.2px;top:179.7px;width:18.0px;height:11.1px;background:#3d96d4;"></div>
<div class="lt" style="left:518.6px;top:180.1px;font-size:8.45px">&nbsp;33.09 – 778.1 (37 municipios)</div>
<div class="lb" style="left:494.2px;top:196.0px;width:18.0px;height:11.8px;background:#ffffff;border:0.7px solid #c6c6c6;box-sizing:border-box;"></div>
<div class="lt" style="left:518.6px;top:196.6px;font-size:8.45px">Sin casos (0 municipios)</div>
<svg class="abs" style="left:245px;top:302px" width="22" height="24"><ellipse cx="10.3" cy="11.5" rx="8.2" ry="8.8" fill="#f40b0b"/></svg>
<div class="lbl" style="left:259px;width:200px;top:309px;font-size:8.35px;line-height:10.6px;color:#111">Municipios con incremento de casos en las últimas<br>24 hrs.</div>

<div class="banner" style="top:333.0px;height:60px"></div>
<div class="abs" style="left:78px;top:332.6px;font-size:7.6px;line-height:10px;color:#0c1140;white-space:nowrap">FUENTE:&nbsp; Plataforma SISVER</div>
<div class="inf" style="top:352.7px">INFORME TÉCNICO</div>
<div class="cov" style="top:346.1px">COVID-19</div>
<svg class="abs" style="left:588px;top:340.0px" width="92" height="38" viewBox="588 340 92 38">
 <path d="M597.7 344.3 Q607.5 341.6 617.3 344.3 L617.3 354.6 Q616.6 360.6 607.5 365.2 Q598.4 360.6 597.7 354.6Z" fill="#8f918d" stroke="#dfe2ec" stroke-width="1.1" stroke-linejoin="round"/>
 <path d="M600.6 346.9 Q607.5 345.2 614.4 346.9 L614.4 354.2 Q613.8 358.4 607.5 361.8 Q601.2 358.4 600.6 354.2Z" fill="#a3a5a1" stroke="#e3e5ea" stroke-width=".6"/>
 <path d="M602.6 348.6H612.4V353.8Q611.8 356.8 607.5 359.2Q603.2 356.8 602.6 353.8Z" fill="#c9cbc9"/>
 <path d="M602.6 351.4H612.4M607.5 348.6V359M604.3 349.8h1.6M609.2 349.8h1.6M604.3 353.6l1.5 1.6M610.6 353.6l-1.5 1.6" stroke="#77797a" stroke-width=".7" fill="none"/>
 <text x="607.5" y="370.5" text-anchor="middle" font-family="Liberation Sans, sans-serif" font-weight="bold" font-size="6.7" fill="#f4f5fb" textLength="33" lengthAdjust="spacingAndGlyphs">Chihuahua</text>
 <text x="607.5" y="373.7" text-anchor="middle" font-family="Liberation Sans, sans-serif" font-weight="bold" font-size="2.1" fill="#a9b0d8" textLength="33" lengthAdjust="spacingAndGlyphs">GOBIERNO DEL ESTADO</text>
 <rect x="632.3" y="342.2" width="1.7" height="33.2" fill="#eef0f7"/>
 <text x="640.9" y="357.4" font-family="Liberation Sans, sans-serif" font-size="4.8" fill="#dfe2f0" textLength="28.4" lengthAdjust="spacingAndGlyphs">SECRETARÍA</text>
 <text x="640.9" y="363.8" font-family="Liberation Sans, sans-serif" font-weight="bold" font-size="5.4" fill="#fff" stroke="#fff" stroke-width=".25" textLength="28" lengthAdjust="spacingAndGlyphs">DE SALUD</text>
</svg>

</div></div>

<!-- slide 2 -->
<div class="slide" style="top:365.2px;height:381.7px"><div class="in" style="top:-365.2px;height:750px">
<div class="stripes" style="left:0.6px;top:365.2px"></div>
<svg class="tbl" style="left:22.1px;top:383.2px" width="235.40" height="309.40" viewBox="22.1 383.2 235.40 309.40">
<rect x="24.1" y="385.2" width="231.40" height="12.50" fill="#f4b084"/>
<rect x="24.1" y="397.7" width="231.40" height="292.90" fill="#f3f3f3"/>
<path d="M24.1 397.70H255.5M24.1 407.15H255.5M24.1 416.60H255.5M24.1 426.05H255.5M24.1 435.49H255.5M24.1 444.94H255.5M24.1 454.39H255.5M24.1 463.84H255.5M24.1 473.29H255.5M24.1 482.74H255.5M24.1 492.18H255.5M24.1 501.63H255.5M24.1 511.08H255.5M24.1 520.53H255.5M24.1 529.98H255.5M24.1 539.43H255.5M24.1 548.87H255.5M24.1 558.32H255.5M24.1 567.77H255.5M24.1 577.22H255.5M24.1 586.67H255.5M24.1 596.12H255.5M24.1 605.56H255.5M24.1 615.01H255.5M24.1 624.46H255.5M24.1 633.91H255.5M24.1 643.36H255.5M24.1 652.81H255.5M24.1 662.25H255.5M24.1 671.70H255.5M24.1 681.15H255.5M24.1 690.60H255.5M24.1 385.2H255.5" stroke="#333" stroke-width="0.9" fill="none"/>
<path d="M24.1 385.2V690.6M107.5 385.2V690.6M140.4 385.2V690.6M221.5 385.2V690.6M255.5 385.2V690.6" stroke="#2e2e2e" stroke-width="1.25" fill="none"/>
<text class="th" x="65.80" y="394.04" font-size="7.2">MUNICIPIO</text>
<text class="th" x="123.95" y="394.04" font-size="7.2">#</text>
<text class="th" x="180.95" y="394.04" font-size="7.2">MUNICIPIO</text>
<text class="th" x="238.50" y="394.04" font-size="7.2">#</text>
<text class="td" transform="translate(65.80 404.62) scale(0.865 1)" font-size="6.1">Juárez</text>
<text class="td" transform="translate(123.95 404.62) scale(0.865 1)" font-size="6.1">3,821</text>
<text class="td" transform="translate(180.95 404.62) scale(0.865 1)" font-size="6.1">Aquiles Serdán</text>
<text class="td" transform="translate(238.50 404.62) scale(0.865 1)" font-size="6.1">9</text>
<text class="td" transform="translate(65.80 414.07) scale(0.865 1)" font-size="6.1">Chihuahua</text>
<text class="td" transform="translate(123.95 414.07) scale(0.865 1)" font-size="6.1">1,928</text>
<text class="td" transform="translate(180.95 414.07) scale(0.865 1)" font-size="6.1">Buenaventura</text>
<text class="td" transform="translate(238.50 414.07) scale(0.865 1)" font-size="6.1">9</text>
<text class="td" transform="translate(65.80 423.52) scale(0.865 1)" font-size="6.1">Delicias</text>
<text class="td" transform="translate(123.95 423.52) scale(0.865 1)" font-size="6.1">408</text>
<text class="td" transform="translate(180.95 423.52) scale(0.865 1)" font-size="6.1">Urique</text>
<text class="td" transform="translate(238.50 423.52) scale(0.865 1)" font-size="6.1">8</text>
<text class="td" transform="translate(65.80 432.97) scale(0.865 1)" font-size="6.1">Hidalgo del Parral</text>
<text class="td" transform="translate(123.95 432.97) scale(0.865 1)" font-size="6.1">285</text>
<text class="td" transform="translate(180.95 432.97) scale(0.865 1)" font-size="6.1">Bachíniva</text>
<text class="td" transform="translate(238.50 432.97) scale(0.865 1)" font-size="6.1">8</text>
<text class="td" transform="translate(65.80 442.41) scale(0.865 1)" font-size="6.1">Cuauhtémoc</text>
<text class="td" transform="translate(123.95 442.41) scale(0.865 1)" font-size="6.1">284</text>
<text class="td" transform="translate(180.95 442.41) scale(0.865 1)" font-size="6.1">Carichí</text>
<text class="td" transform="translate(238.50 442.41) scale(0.865 1)" font-size="6.1">8</text>
<text class="td" transform="translate(65.80 451.86) scale(0.865 1)" font-size="6.1">Camargo</text>
<text class="td" transform="translate(123.95 451.86) scale(0.865 1)" font-size="6.1">126</text>
<text class="td" transform="translate(180.95 451.86) scale(0.865 1)" font-size="6.1">San Francisco de Conchos</text>
<text class="td" transform="translate(238.50 451.86) scale(0.865 1)" font-size="6.1">7</text>
<text class="td" transform="translate(65.80 461.31) scale(0.865 1)" font-size="6.1">Nuevo Casas Grandes</text>
<text class="td" transform="translate(123.95 461.31) scale(0.865 1)" font-size="6.1">102</text>
<text class="td" transform="translate(180.95 461.31) scale(0.865 1)" font-size="6.1">Balleza</text>
<text class="td" transform="translate(238.50 461.31) scale(0.865 1)" font-size="6.1">6</text>
<text class="td" transform="translate(65.80 470.76) scale(0.865 1)" font-size="6.1">Jiménez</text>
<text class="td" transform="translate(123.95 470.76) scale(0.865 1)" font-size="6.1">89</text>
<text class="td" transform="translate(180.95 470.76) scale(0.865 1)" font-size="6.1">Ignacio Zaragoza</text>
<text class="td" transform="translate(238.50 470.76) scale(0.865 1)" font-size="6.1">6</text>
<text class="td" transform="translate(65.80 480.21) scale(0.865 1)" font-size="6.1">Meoqui</text>
<text class="td" transform="translate(123.95 480.21) scale(0.865 1)" font-size="6.1">86</text>
<text class="td" transform="translate(180.95 480.21) scale(0.865 1)" font-size="6.1">Guazapares</text>
<text class="td" transform="translate(238.50 480.21) scale(0.865 1)" font-size="6.1">5</text>
<text class="td" transform="translate(65.80 489.66) scale(0.865 1)" font-size="6.1">Saucillo</text>
<text class="td" transform="translate(123.95 489.66) scale(0.865 1)" font-size="6.1">72</text>
<text class="td" transform="translate(180.95 489.66) scale(0.865 1)" font-size="6.1">Janos</text>
<text class="td" transform="translate(238.50 489.66) scale(0.865 1)" font-size="6.1">5</text>
<text class="td" transform="translate(65.80 499.10) scale(0.865 1)" font-size="6.1">Guerrero</text>
<text class="td" transform="translate(123.95 499.10) scale(0.865 1)" font-size="6.1">40</text>
<text class="td" transform="translate(180.95 499.10) scale(0.865 1)" font-size="6.1">Coyame Del Sotol</text>
<text class="td" transform="translate(238.50 499.10) scale(0.865 1)" font-size="6.1">5</text>
<text class="td" transform="translate(65.80 508.55) scale(0.865 1)" font-size="6.1">Guachochi</text>
<text class="td" transform="translate(123.95 508.55) scale(0.865 1)" font-size="6.1">34</text>
<text class="td" transform="translate(180.95 508.55) scale(0.865 1)" font-size="6.1">Guadalupe</text>
<text class="td" transform="translate(238.50 508.55) scale(0.865 1)" font-size="6.1">5</text>
<text class="td" transform="translate(65.80 518.00) scale(0.865 1)" font-size="6.1">Ojinaga</text>
<text class="td" transform="translate(123.95 518.00) scale(0.865 1)" font-size="6.1">30</text>
<text class="td" transform="translate(180.95 518.00) scale(0.865 1)" font-size="6.1">Praxedis G. Guerrero</text>
<text class="td" transform="translate(238.50 518.00) scale(0.865 1)" font-size="6.1">5</text>
<text class="td" transform="translate(65.80 527.45) scale(0.865 1)" font-size="6.1">Rosales</text>
<text class="td" transform="translate(123.95 527.45) scale(0.865 1)" font-size="6.1">26</text>
<text class="td" transform="translate(180.95 527.45) scale(0.865 1)" font-size="6.1">Manuel Benavides</text>
<text class="td" transform="translate(238.50 527.45) scale(0.865 1)" font-size="6.1">4</text>
<text class="td" transform="translate(65.80 536.90) scale(0.865 1)" font-size="6.1">Madera</text>
<text class="td" transform="translate(123.95 536.90) scale(0.865 1)" font-size="6.1">20</text>
<text class="td" transform="translate(180.95 536.90) scale(0.865 1)" font-size="6.1">Santa Isabel</text>
<text class="td" transform="translate(238.50 536.90) scale(0.865 1)" font-size="6.1">4</text>
<text class="td" transform="translate(65.80 546.35) scale(0.865 1)" font-size="6.1">Ascensión</text>
<text class="td" transform="translate(123.95 546.35) scale(0.865 1)" font-size="6.1">21</text>
<text class="td" transform="translate(180.95 546.35) scale(0.865 1)" font-size="6.1">Cusihuiriachi</text>
<text class="td" transform="translate(238.50 546.35) scale(0.865 1)" font-size="6.1">4</text>
<text class="td" transform="translate(65.80 555.79) scale(0.865 1)" font-size="6.1">Bocoyna</text>
<text class="td" transform="translate(123.95 555.79) scale(0.865 1)" font-size="6.1">19</text>
<text class="td" transform="translate(180.95 555.79) scale(0.865 1)" font-size="6.1">Coronado</text>
<text class="td" transform="translate(238.50 555.79) scale(0.865 1)" font-size="6.1">4</text>
<text class="td" transform="translate(65.80 565.24) scale(0.865 1)" font-size="6.1">Ahumada</text>
<text class="td" transform="translate(123.95 565.24) scale(0.865 1)" font-size="6.1">19</text>
<text class="td" transform="translate(180.95 565.24) scale(0.865 1)" font-size="6.1">Galeana</text>
<text class="td" transform="translate(238.50 565.24) scale(0.865 1)" font-size="6.1">4</text>
<text class="td" transform="translate(65.80 574.69) scale(0.865 1)" font-size="6.1">Aldama</text>
<text class="td" transform="translate(123.95 574.69) scale(0.865 1)" font-size="6.1">18</text>
<text class="td" transform="translate(180.95 574.69) scale(0.865 1)" font-size="6.1">Nonoava</text>
<text class="td" transform="translate(238.50 574.69) scale(0.865 1)" font-size="6.1">3</text>
<text class="td" transform="translate(65.80 584.14) scale(0.865 1)" font-size="6.1">Namiquipa</text>
<text class="td" transform="translate(123.95 584.14) scale(0.865 1)" font-size="6.1">18</text>
<text class="td" transform="translate(180.95 584.14) scale(0.865 1)" font-size="6.1">Matamoros</text>
<text class="td" transform="translate(238.50 584.14) scale(0.865 1)" font-size="6.1">3</text>
<text class="td" transform="translate(65.80 593.59) scale(0.865 1)" font-size="6.1">San Francisco Del Oro</text>
<text class="td" transform="translate(123.95 593.59) scale(0.865 1)" font-size="6.1">16</text>
<text class="td" transform="translate(180.95 593.59) scale(0.865 1)" font-size="6.1">Gran Morelos</text>
<text class="td" transform="translate(238.50 593.59) scale(0.865 1)" font-size="6.1">3</text>
<text class="td" transform="translate(65.80 603.04) scale(0.865 1)" font-size="6.1">Gómez Farías</text>
<text class="td" transform="translate(123.95 603.04) scale(0.865 1)" font-size="6.1">15</text>
<text class="td" transform="translate(180.95 603.04) scale(0.865 1)" font-size="6.1">Riva Palacio</text>
<text class="td" transform="translate(238.50 603.04) scale(0.865 1)" font-size="6.1">3</text>
<text class="td" transform="translate(65.80 612.48) scale(0.865 1)" font-size="6.1">Santa Bárbara</text>
<text class="td" transform="translate(123.95 612.48) scale(0.865 1)" font-size="6.1">15</text>
<text class="td" transform="translate(180.95 612.48) scale(0.865 1)" font-size="6.1">Dr. Belisario Domínguez</text>
<text class="td" transform="translate(238.50 612.48) scale(0.865 1)" font-size="6.1">2</text>
<text class="td" transform="translate(65.80 621.93) scale(0.865 1)" font-size="6.1">Julimes</text>
<text class="td" transform="translate(123.95 621.93) scale(0.865 1)" font-size="6.1">14</text>
<text class="td" transform="translate(180.95 621.93) scale(0.865 1)" font-size="6.1">Rosario</text>
<text class="td" transform="translate(238.50 621.93) scale(0.865 1)" font-size="6.1">2</text>
<text class="td" transform="translate(65.80 631.38) scale(0.865 1)" font-size="6.1">Allende</text>
<text class="td" transform="translate(123.95 631.38) scale(0.865 1)" font-size="6.1">13</text>
<text class="td" transform="translate(180.95 631.38) scale(0.865 1)" font-size="6.1">El Tule</text>
<text class="td" transform="translate(238.50 631.38) scale(0.865 1)" font-size="6.1">2</text>
<text class="td" transform="translate(65.80 640.83) scale(0.865 1)" font-size="6.1">Casas Grandes</text>
<text class="td" transform="translate(123.95 640.83) scale(0.865 1)" font-size="6.1">14</text>
<text class="td" transform="translate(180.95 640.83) scale(0.865 1)" font-size="6.1">Matachí</text>
<text class="td" transform="translate(238.50 640.83) scale(0.865 1)" font-size="6.1">2</text>
<text class="td" transform="translate(65.80 650.28) scale(0.865 1)" font-size="6.1">López</text>
<text class="td" transform="translate(123.95 650.28) scale(0.865 1)" font-size="6.1">12</text>
<text class="td" transform="translate(180.95 650.28) scale(0.865 1)" font-size="6.1">Satevó</text>
<text class="td" transform="translate(238.50 650.28) scale(0.865 1)" font-size="6.1">1</text>
<text class="td" transform="translate(65.80 659.73) scale(0.865 1)" font-size="6.1">Guadalupe Y Calvo</text>
<text class="td" transform="translate(123.95 659.73) scale(0.865 1)" font-size="6.1">13</text>
<text class="td" transform="translate(180.95 659.73) scale(0.865 1)" font-size="6.1">Morelos</text>
<text class="td" transform="translate(238.50 659.73) scale(0.865 1)" font-size="6.1">2</text>
<text class="td" transform="translate(65.80 669.18) scale(0.865 1)" font-size="6.1">Ocampo</text>
<text class="td" transform="translate(123.95 669.18) scale(0.865 1)" font-size="6.1">11</text>
<text class="td" transform="translate(180.95 669.18) scale(0.865 1)" font-size="6.1">Moris</text>
<text class="td" transform="translate(238.50 669.18) scale(0.865 1)" font-size="6.1">1</text>
<text class="td" transform="translate(65.80 678.62) scale(0.865 1)" font-size="6.1">Valle De Zaragoza</text>
<text class="td" transform="translate(123.95 678.62) scale(0.865 1)" font-size="6.1">10</text>
<text class="td" transform="translate(180.95 678.62) scale(0.865 1)" font-size="6.1">Huejotitan</text>
<text class="td" transform="translate(238.50 678.62) scale(0.865 1)" font-size="6.1">1</text>
<text class="td" transform="translate(65.80 688.07) scale(0.865 1)" font-size="6.1">Temosachic</text>
<text class="td" transform="translate(123.95 688.07) scale(0.865 1)" font-size="6.1">10</text>
<text class="td" transform="translate(180.95 688.07) scale(0.865 1)" font-size="6.1">Maguarichi</text>
<text class="td" transform="translate(238.50 688.07) scale(0.865 1)" font-size="6.1">1</text>
</svg>
<div class="title" style="left:342.3px;top:391px;font-size:17px;line-height:20px;color:#1f2d55">Defunciones por Municipio COVID-19</div>
<svg class="map" style="left:257px;top:407px" width="240" height="260" viewBox="257 407 240 260">
<defs><clipPath id="c2"><path d="M297.2 412.0L365.8 412.0L371.2 414.7L374.7 420.0L376.7 424.5L383.8 427.1L391.0 433.4L399.9 438.7L407.0 445.0L415.9 450.6L424.8 456.6L430.2 462.8L431.9 468.1L436.4 475.3L438.2 482.4L442.6 491.3L449.8 499.3L458.7 505.6L467.6 510.0L480.1 515.4L489.0 519.8L491.9 522.4L489.0 527.7L483.6 537.5L480.1 540.2L476.5 547.3L472.0 556.2L469.4 563.4L467.6 566.0L470.3 572.3L470.3 581.2L471.1 590.1L473.8 595.4L474.7 602.6L472.0 606.1L477.4 613.3L469.4 611.5L456.9 610.6L453.3 613.3L449.8 618.6L446.2 624.0L442.6 628.4L435.5 623.1L426.6 624.0L421.2 623.1L414.1 622.2L409.7 620.4L405.2 620.4L397.2 615.9L391.0 611.5L383.8 608.8L378.5 611.5L376.7 616.8L374.0 624.0L373.1 629.3L369.4 632.9L367.6 640.0L364.0 645.3L363.1 656.0L362.2 658.7L351.6 659.6L342.6 654.3L334.6 648.9L331.1 641.8L323.0 638.2L314.1 636.4L310.6 631.1L305.2 627.5L307.0 624.0L306.1 616.8L302.5 611.5L297.2 606.1L295.4 600.8L287.4 602.6L282.1 600.8L279.4 593.7L279.4 586.5L276.7 579.4L271.4 572.3L267.8 565.2L264.2 558.9L264.2 552.7L274.9 550.9L282.9 549.1L283.8 543.8L281.2 534.9L277.6 527.7L277.6 525.1L275.8 514.5L277.6 507.3L279.4 498.4L282.1 493.1L280.3 489.5L281.2 478.8L282.1 471.7L279.4 462.8L271.4 457.4L268.7 453.0L267.8 446.7L274.9 442.3L272.3 437.8L269.6 434.3L274.0 430.7L297.2 429.8Z"/></clipPath></defs>
<g clip-path="url(#c2)">
<path d="M297.2 412.0L365.8 412.0L371.2 414.7L374.7 420.0L376.7 424.5L383.8 427.1L391.0 433.4L399.9 438.7L407.0 445.0L415.9 450.6L424.8 456.6L430.2 462.8L431.9 468.1L436.4 475.3L438.2 482.4L442.6 491.3L449.8 499.3L458.7 505.6L467.6 510.0L480.1 515.4L489.0 519.8L491.9 522.4L489.0 527.7L483.6 537.5L480.1 540.2L476.5 547.3L472.0 556.2L469.4 563.4L467.6 566.0L470.3 572.3L470.3 581.2L471.1 590.1L473.8 595.4L474.7 602.6L472.0 606.1L477.4 613.3L469.4 611.5L456.9 610.6L453.3 613.3L449.8 618.6L446.2 624.0L442.6 628.4L435.5 623.1L426.6 624.0L421.2 623.1L414.1 622.2L409.7 620.4L405.2 620.4L397.2 615.9L391.0 611.5L383.8 608.8L378.5 611.5L376.7 616.8L374.0 624.0L373.1 629.3L369.4 632.9L367.6 640.0L364.0 645.3L363.1 656.0L362.2 658.7L351.6 659.6L342.6 654.3L334.6 648.9L331.1 641.8L323.0 638.2L314.1 636.4L310.6 631.1L305.2 627.5L307.0 624.0L306.1 616.8L302.5 611.5L297.2 606.1L295.4 600.8L287.4 602.6L282.1 600.8L279.4 593.7L279.4 586.5L276.7 579.4L271.4 572.3L267.8 565.2L264.2 558.9L264.2 552.7L274.9 550.9L282.9 549.1L283.8 543.8L281.2 534.9L277.6 527.7L277.6 525.1L275.8 514.5L277.6 507.3L279.4 498.4L282.1 493.1L280.3 489.5L281.2 478.8L282.1 471.7L279.4 462.8L271.4 457.4L268.7 453.0L267.8 446.7L274.9 442.3L272.3 437.8L269.6 434.3L274.0 430.7L297.2 429.8Z" fill="#1e64c8"/>
<path d="M297.2 430.0L299.9 436.3L302.6 441.7L306.2 449.8L306.2 456.1L300.8 457.0L292.7 466.9L282.8 475.0L273.8 478.6L254.0 475.0L254.0 421.0L297.2 421.0Z" fill="#1b8cd6" stroke="#134a8e" stroke-width="0.35" stroke-linejoin="round"/>
<path d="M326.0 456.1L325.1 452.5L332.3 449.8L339.5 450.7L342.2 449.4L341.3 450.7L343.1 457.9L338.6 466.9L352.1 474.1L355.7 483.1L362.0 493.9L363.8 501.1L356.6 501.1L331.4 502.0L326.9 490.3L327.8 484.9L315.2 484.9L308.0 483.1L307.1 477.7L315.2 476.8L316.1 468.7L324.2 466.0L327.8 470.5L328.7 463.3Z" fill="#1b8cd6" stroke="#134a8e" stroke-width="0.35" stroke-linejoin="round"/>
<path d="M254.0 553.2L273.8 552.3L282.8 550.5L286.4 550.5L286.4 562.2L301.7 562.2L306.2 555.0L313.4 560.4L322.4 561.3L335.0 562.2L335.0 573.0L340.4 580.2L347.6 585.6L349.4 589.2L351.2 595.5L361.1 596.4L363.8 592.8L371.0 599.1L378.1 600.0L383.0 603.6L384.4 609.0L379.9 614.4L379.9 671.9L254.0 671.9Z" fill="#1b8cd6" stroke="#134a8e" stroke-width="0.35" stroke-linejoin="round"/>
<path d="M363.8 555.0L371.0 553.2L382.0 558.6L390.1 564.9L394.6 570.3L391.9 575.7L382.0 574.8L376.6 580.2L369.2 587.4L365.6 580.2L361.1 574.8L363.8 570.3L362.0 560.4Z" fill="#1b8cd6" stroke="#134a8e" stroke-width="0.35" stroke-linejoin="round"/>
<path d="M353.9 513.7L358.4 512.8L362.0 518.1L363.8 528.0L372.8 538.8L371.0 545.1L365.6 544.2L361.1 538.8L356.6 533.4L353.0 528.0L353.0 525.3Z" fill="#1b8cd6" stroke="#134a8e" stroke-width="0.35" stroke-linejoin="round"/>
<path d="M312.5 527.1L317.0 524.4L322.4 527.1L320.6 533.4L315.2 536.1L311.6 531.6Z" fill="#1b8cd6" stroke="#134a8e" stroke-width="0.35" stroke-linejoin="round"/>
<path d="M387.4 537.0L393.7 535.2L397.3 539.7L394.6 544.2L389.2 542.4Z" fill="#1b8cd6" stroke="#134a8e" stroke-width="0.35" stroke-linejoin="round"/>
<path d="M395.5 608.1L403.6 607.2L411.7 612.6L409.9 620.7L405.4 621.6L397.3 617.1Z" fill="#1b8cd6" stroke="#134a8e" stroke-width="0.35" stroke-linejoin="round"/>
<path d="M344.9 439.9L352.1 438.1L364.7 435.9L374.6 436.3L374.8 437.2L382.0 445.3L396.4 451.6L400.0 462.4L401.8 469.6L400.0 471.4L398.2 475.9L390.1 481.3L394.6 484.9L392.8 489.4L391.0 495.7L387.4 496.6L373.0 493.0L362.0 493.9L355.7 483.1L352.1 474.1L338.6 466.9L343.1 457.9L341.3 450.7Z" fill="#1f55b0" stroke="#134a8e" stroke-width="0.35" stroke-linejoin="round"/>
<path d="M307.1 451.6L312.5 449.8L321.5 453.4L326.0 456.1L328.7 463.3L327.8 470.5L324.2 466.0L316.1 468.7L315.2 476.8L307.1 477.7L308.0 465.1Z" fill="#2159b5" stroke="#134a8e" stroke-width="0.35" stroke-linejoin="round"/>
<path d="M310.7 504.7L321.5 507.4L322.4 516.4L320.6 521.7L317.0 524.4L312.5 527.1L311.6 531.6L311.6 538.8L301.7 549.6L286.4 550.5L283.7 545.1L281.0 536.1L277.4 528.9L290.0 529.8L305.3 527.1L305.3 519.9L309.8 514.6L308.9 511.0Z" fill="#1f55b0" stroke="#134a8e" stroke-width="0.35" stroke-linejoin="round"/>
<path d="M335.9 520.8L343.1 517.2L352.1 522.6L353.9 528.9L353.0 533.4L358.4 538.8L361.1 543.3L356.6 547.8L347.6 548.7L342.2 545.1L338.6 538.8L336.8 533.4L335.9 528.0L332.3 527.1Z" fill="#1f55b0" stroke="#134a8e" stroke-width="0.35" stroke-linejoin="round"/>
<path d="M392.8 570.3L396.4 564.0L401.8 564.0L398.2 560.4L406.3 553.2L400.0 552.3L404.5 550.5L406.3 546.0L411.7 551.4L411.7 555.0L409.0 564.0L410.8 573.0L415.3 574.8L416.2 580.2L418.0 585.6L416.2 588.3L408.1 590.1L407.2 582.0L400.0 576.6L394.6 574.8Z" fill="#1c4fa3" stroke="#134a8e" stroke-width="0.35" stroke-linejoin="round"/>
<path d="M387.4 591.9L396.4 591.0L400.0 592.8L408.1 590.1L409.9 596.4L405.4 601.8L404.5 607.2L398.2 608.1L392.8 604.5L387.4 601.8L386.5 596.4Z" fill="#1c4fa3" stroke="#134a8e" stroke-width="0.35" stroke-linejoin="round"/>
<path d="M408.1 590.1L416.2 588.3L424.3 590.1L425.2 600.0L421.6 595.5L415.3 599.1L415.3 602.7L418.0 606.3L422.5 609.0L423.4 614.4L427.0 616.2L430.6 612.6L436.0 613.5L436.0 624.3L427.0 625.2L421.6 624.3L414.4 623.4L409.9 620.7L411.7 612.6L408.1 609.9L404.5 607.2L405.4 601.8L409.9 596.4Z" fill="#1f5ab8" stroke="#134a8e" stroke-width="0.35" stroke-linejoin="round"/>
<path d="M375.4 548.4L384.2 544.9L394.7 547.5L400.0 550.2L405.3 551.9L398.2 562.5L391.2 566.0L386.0 562.5L377.2 557.2Z" fill="#1c4fa3" stroke="#134a8e" stroke-width="0.35" stroke-linejoin="round"/>
<path d="M361.3 493.1L387.4 493.1L387.4 496.6L383.8 503.8L382.0 514.5L377.6 519.8L383.8 528.7L389.2 534.9L388.3 538.4L392.7 542.0L396.3 545.6L394.5 550.9L383.8 556.2L376.7 558.0L374.6 554.5L376.4 548.2L372.9 544.7L371.2 540.2L365.8 534.9L361.3 528.7L362.2 518.0L361.3 510.9L364.0 503.8Z" fill="#163f82" stroke="#134a8e" stroke-width="0.35" stroke-linejoin="round"/>
<path d="M454.0 512.8L457.6 519.9L459.4 528.9L456.7 531.6L452.2 537.9L442.3 537.0L437.8 534.3L427.0 531.6L414.4 532.5L406.3 538.8L406.3 546.0L411.7 551.4L411.7 555.0L409.0 564.0L410.8 573.0L415.3 574.8L416.2 580.2L418.0 585.6L416.2 588.3L424.3 590.1L425.2 600.0L428.8 605.4L435.1 609.0L436.0 613.5L436.0 624.3L436.0 671.9L516.9 671.9L516.9 519.9L491.7 522.6L489.9 519.9L481.0 515.5L468.4 511.0Z" fill="#163f82" stroke="#134a8e" stroke-width="0.35" stroke-linejoin="round"/>
<path d="M352.1 410.2L368.3 410.2L371.9 414.7L375.5 420.1L376.4 426.4L374.6 436.3L364.7 435.9L352.1 438.1L348.5 430.9L356.6 425.5L353.9 418.3Z" fill="#050f4b" stroke="#134a8e" stroke-width="0.35" stroke-linejoin="round"/>
<path d="M390.1 481.3L398.2 475.9L400.0 471.4L409.0 470.5L418.0 465.1L423.4 463.3L427.0 466.0L428.8 475.0L430.6 482.2L431.5 489.4L430.6 496.6L434.2 503.8L442.3 511.0L441.4 516.4L435.1 522.6L428.8 524.4L420.7 521.7L423.4 516.4L418.9 511.0L411.7 505.6L407.2 501.1L400.0 501.1L396.4 496.6L391.0 495.7L392.8 489.4L394.6 484.9Z" fill="#050f4b" stroke="#134a8e" stroke-width="0.35" stroke-linejoin="round"/>
<path d="M398.2 560.4L406.3 553.2L410.8 552.3L409.9 557.7L401.8 564.0Z" fill="#050f4b" stroke="#134a8e" stroke-width="0.35" stroke-linejoin="round"/>
<path d="M415.3 599.1L421.6 595.5L425.2 600.0L428.8 605.4L435.1 609.0L436.0 613.5L430.6 612.6L427.0 616.2L423.4 614.4L422.5 609.0L418.0 606.3L415.3 602.7Z" fill="#050f4b" stroke="#134a8e" stroke-width="0.35" stroke-linejoin="round"/>
<path d="M383.8 608.1L389.2 603.6L392.8 606.3L388.3 611.7Z" fill="#050f4b" stroke="#134a8e" stroke-width="0.35" stroke-linejoin="round"/>
<path d="M379.3 607.2L381.6 605.7L383.1 608.6L380.9 610.0Z" fill="#050f4b" stroke="#134a8e" stroke-width="0.35" stroke-linejoin="round"/>
<path d="M297.2 429.8L299.9 436.0L302.5 441.4L307.0 451.2" fill="none" stroke="#123f86" stroke-width="0.35" stroke-linejoin="round"/>
<path d="M312.3 449.4L324.8 452.1L331.9 449.4L339.0 450.3L340.8 450.3" fill="none" stroke="#123f86" stroke-width="0.35" stroke-linejoin="round"/>
<path d="M328.4 462.8L327.5 469.9L327.5 484.1L315.0 484.1L315.0 476.1" fill="none" stroke="#123f86" stroke-width="0.35" stroke-linejoin="round"/>
<path d="M307.0 477.0L306.1 482.4L304.3 487.7L306.1 496.6L311.4 503.7" fill="none" stroke="#123f86" stroke-width="0.35" stroke-linejoin="round"/>
<path d="M327.5 484.1L326.6 489.5L331.0 500.2L361.3 499.3" fill="none" stroke="#123f86" stroke-width="0.35" stroke-linejoin="round"/>
<path d="M331.0 501.1L322.1 506.4" fill="none" stroke="#123f86" stroke-width="0.35" stroke-linejoin="round"/>
<path d="M322.1 515.3L323.0 521.5L317.7 525.1L312.3 528.7L311.4 537.6" fill="none" stroke="#123f86" stroke-width="0.35" stroke-linejoin="round"/>
<path d="M309.7 510.9L307.0 518.0L302.5 525.1L298.1 530.4L283.8 536.7" fill="none" stroke="#123f86" stroke-width="0.35" stroke-linejoin="round"/>
<path d="M342.6 516.2L335.5 519.8L331.9 522.4L325.7 528.7L323.9 537.6" fill="none" stroke="#123f86" stroke-width="0.35" stroke-linejoin="round"/>
<path d="M351.5 521.5L356.9 512.6L361.3 514.4" fill="none" stroke="#123f86" stroke-width="0.35" stroke-linejoin="round"/>
<path d="M282.0 493.0L296.3 492.2" fill="none" stroke="#123f86" stroke-width="0.35" stroke-linejoin="round"/>
<path d="M387.4 496.6L399.9 500.2L408.8 507.3L421.2 518.0L423.0 523.3L434.6 525.1" fill="none" stroke="#123f86" stroke-width="0.35" stroke-linejoin="round"/>
<path d="M383.8 427.1L385.6 432.5L390.9 436.9L394.5 435.2" fill="none" stroke="#123f86" stroke-width="0.35" stroke-linejoin="round"/>
<path d="M415.9 587.4L426.6 584.7L433.7 583.8L451.5 579.4L470.2 581.2" fill="none" stroke="#123f86" stroke-width="0.35" stroke-linejoin="round"/>
<path d="M423.9 596.3L431.9 606.1L435.5 611.4L434.6 616.8L426.6 615.0L423.9 615.0" fill="none" stroke="#123f86" stroke-width="0.35" stroke-linejoin="round"/>
<path d="M435.5 611.4L437.3 620.4L435.5 623.0" fill="none" stroke="#123f86" stroke-width="0.35" stroke-linejoin="round"/>
<path d="M426.6 552.7L430.1 558.9L432.8 562.5" fill="none" stroke="#123f86" stroke-width="0.35" stroke-linejoin="round"/>
<path d="M373.1 572.3L380.3 574.9L387.4 574.0L394.5 574.9L401.6 577.6L407.0 581.2L406.1 588.3" fill="none" stroke="#123f86" stroke-width="0.35" stroke-linejoin="round"/>
<path d="M380.3 574.9L376.7 581.2L378.5 586.5L386.5 589.2" fill="none" stroke="#123f86" stroke-width="0.35" stroke-linejoin="round"/>
<path d="M373.1 586.5L378.5 586.5" fill="none" stroke="#123f86" stroke-width="0.35" stroke-linejoin="round"/>
<path d="M373.1 558.0L378.5 563.4L383.8 561.6L393.6 568.7" fill="none" stroke="#123f86" stroke-width="0.35" stroke-linejoin="round"/>
<path d="M283.8 550.0L287.4 549.1L301.6 550.0L312.3 538.4L311.4 527.7" fill="none" stroke="#123f86" stroke-width="0.35" stroke-linejoin="round"/>
<path d="M301.6 550.0L307.0 554.4L314.1 559.8L323.0 560.7L335.5 561.6L337.3 556.2L342.6 549.1L360.4 550.9" fill="none" stroke="#123f86" stroke-width="0.35" stroke-linejoin="round"/>
<path d="M287.4 550.0L287.4 561.6L302.5 561.6L307.0 554.4" fill="none" stroke="#123f86" stroke-width="0.35" stroke-linejoin="round"/>
<path d="M302.5 561.6L302.5 572.3L299.9 575.8" fill="none" stroke="#123f86" stroke-width="0.35" stroke-linejoin="round"/>
<path d="M302.5 572.3L308.8 577.6L315.9 581.2" fill="none" stroke="#123f86" stroke-width="0.35" stroke-linejoin="round"/>
<path d="M264.2 558.9L274.9 560.7L287.4 561.6" fill="none" stroke="#123f86" stroke-width="0.35" stroke-linejoin="round"/>
<path d="M335.5 561.6L335.5 572.3L340.8 579.4" fill="none" stroke="#123f86" stroke-width="0.35" stroke-linejoin="round"/>
<path d="M360.4 550.9L364.0 554.4L362.2 559.8L364.0 569.6L361.3 574.0L365.8 579.4" fill="none" stroke="#123f86" stroke-width="0.35" stroke-linejoin="round"/>
<path d="M296.3 593.6L299.9 599.0L298.1 606.1L307.0 611.4L306.1 616.8" fill="none" stroke="#123f86" stroke-width="0.35" stroke-linejoin="round"/>
<path d="M307.0 611.4L312.3 606.1L317.7 599.0L321.2 593.6" fill="none" stroke="#123f86" stroke-width="0.35" stroke-linejoin="round"/>
<path d="M323.0 611.4L317.7 616.8L319.5 623.9L310.5 631.0" fill="none" stroke="#123f86" stroke-width="0.35" stroke-linejoin="round"/>
<path d="M319.5 623.9L326.6 620.4L331.0 616.8L332.8 615.0" fill="none" stroke="#123f86" stroke-width="0.35" stroke-linejoin="round"/>
<path d="M349.7 617.7L353.3 623.9L364.0 631.0L369.3 632.8" fill="none" stroke="#123f86" stroke-width="0.35" stroke-linejoin="round"/>
<path d="M352.4 613.2L360.4 611.4L371.1 613.2L378.2 616.8" fill="none" stroke="#123f86" stroke-width="0.35" stroke-linejoin="round"/>
<path d="M350.6 599.0L364.0 597.2L371.1 598.1L378.2 599.0L383.0 602.5" fill="none" stroke="#123f86" stroke-width="0.35" stroke-linejoin="round"/>
<path d="M348.0 562.5L353.3 559.8L358.6 559.8L362.2 564.2L364.0 569.6" fill="none" stroke="#123f86" stroke-width="0.35" stroke-linejoin="round"/>
<path d="M348.8 567.8L351.5 572.3L356.0 574.9L361.3 574.0" fill="none" stroke="#123f86" stroke-width="0.35" stroke-linejoin="round"/>
<path d="M267.5 561.3L273.8 561.3L286.4 562.2L299.0 563.1L301.7 568.5L301.7 573.0L299.0 576.6L293.6 575.7L288.2 580.2L287.3 583.8L290.0 589.2L286.4 594.6L285.5 602.7L281.9 601.8L279.2 594.6L279.2 587.4L276.5 580.2L271.1 573.0L268.4 566.7Z" fill="#ffffff" stroke="#8a93a3" stroke-width="0.4" stroke-linejoin="round"/>
<path d="M347.6 563.1L353.0 560.4L358.4 560.4L362.0 564.9L363.8 570.3L361.1 574.8L355.7 575.7L351.2 573.0L348.5 568.5Z" fill="#ffffff" stroke="#8a93a3" stroke-width="0.4" stroke-linejoin="round"/>
<path d="M307.1 607.2L313.4 600.0L317.9 593.7L322.4 596.4L327.8 601.8L330.5 605.4L326.0 609.9L322.4 612.6L313.4 611.7L310.7 618.0L308.0 617.1L309.8 611.7L306.2 610.8Z" fill="#ffffff" stroke="#8a93a3" stroke-width="0.4" stroke-linejoin="round"/>
<path d="M412.6 568.5L417.1 564.0L425.2 561.3L432.4 564.0L434.2 568.5L427.0 572.1L417.1 573.0Z" fill="#ffffff" stroke="#8a93a3" stroke-width="0.4" stroke-linejoin="round"/>
</g>
<path d="M297.2 412.0L365.8 412.0L371.2 414.7L374.7 420.0L376.7 424.5L383.8 427.1L391.0 433.4L399.9 438.7L407.0 445.0L415.9 450.6L424.8 456.6L430.2 462.8L431.9 468.1L436.4 475.3L438.2 482.4L442.6 491.3L449.8 499.3L458.7 505.6L467.6 510.0L480.1 515.4L489.0 519.8L491.9 522.4L489.0 527.7L483.6 537.5L480.1 540.2L476.5 547.3L472.0 556.2L469.4 563.4L467.6 566.0L470.3 572.3L470.3 581.2L471.1 590.1L473.8 595.4L474.7 602.6L472.0 606.1L477.4 613.3L469.4 611.5L456.9 610.6L453.3 613.3L449.8 618.6L446.2 624.0L442.6 628.4L435.5 623.1L426.6 624.0L421.2 623.1L414.1 622.2L409.7 620.4L405.2 620.4L397.2 615.9L391.0 611.5L383.8 608.8L378.5 611.5L376.7 616.8L374.0 624.0L373.1 629.3L369.4 632.9L367.6 640.0L364.0 645.3L363.1 656.0L362.2 658.7L351.6 659.6L342.6 654.3L334.6 648.9L331.1 641.8L323.0 638.2L314.1 636.4L310.6 631.1L305.2 627.5L307.0 624.0L306.1 616.8L302.5 611.5L297.2 606.1L295.4 600.8L287.4 602.6L282.1 600.8L279.4 593.7L279.4 586.5L276.7 579.4L271.4 572.3L267.8 565.2L264.2 558.9L264.2 552.7L274.9 550.9L282.9 549.1L283.8 543.8L281.2 534.9L277.6 527.7L277.6 525.1L275.8 514.5L277.6 507.3L279.4 498.4L282.1 493.1L280.3 489.5L281.2 478.8L282.1 471.7L279.4 462.8L271.4 457.4L268.7 453.0L267.8 446.7L274.9 442.3L272.3 437.8L269.6 434.3L274.0 430.7L297.2 429.8Z" fill="none" stroke="#2a5f9e" stroke-width="0.5" stroke-linejoin="round"/>
</svg>
<div class="box" style="left:484.6px;top:416.4px;width:54.2px;height:20px;font-size:12.8px;line-height:23.4px;border-radius:3px">203</div>
<div class="box" style="left:579.1px;top:414.6px;width:55.3px;height:21.8px;font-size:12.6px;line-height:21.8px;border-radius:3px;letter-spacing:.3px">7,721</div>
<div class="lbl" style="left:420px;width:200px;top:443.9px;font-size:8.5px;line-height:10.3px;color:#222">Tasa de mortalidad<br>(por 100 mil habitantes)</div>
<div class="lbl" style="left:555.4px;width:100px;top:443.5px;font-size:8.3px;line-height:10px;color:#222">Defunciones<br>Acumuladas</div>
<div class="lb" style="left:511.2px;top:472.6px;width:18.0px;height:11.7px;background:#0c2d6b;"></div>
<div class="lt" style="left:533.5px;top:470.5px;font-size:7.8px">254.0 — 317.4 (5 municipio)</div>
<div class="lb" style="left:511.2px;top:489.7px;width:18.0px;height:12.5px;background:#00007f;"></div>
<div class="lt" style="left:533.5px;top:487.7px;font-size:7.8px">190.5 — 253.9 (8 municipio)</div>
<div class="lb" style="left:511.2px;top:508.8px;width:18.0px;height:13.2px;background:#0c4a96;"></div>
<div class="lt" style="left:533.5px;top:508.0px;font-size:7.8px">127.1 — 190.4 (12 municipio)</div>
<div class="lb" style="left:511.2px;top:528.9px;width:18.0px;height:12.9px;background:#1767bc;"></div>
<div class="lt" style="left:533.5px;top:528.0px;font-size:7.8px">63.6 — 127.0 (19 municipio)</div>
<div class="lb" style="left:511.2px;top:547.6px;width:18.0px;height:13.2px;background:#3e97d8;"></div>
<div class="lt" style="left:533.5px;top:546.5px;font-size:7.8px">17.4 — 63.5 (18 municipio)</div>
<div class="lb" style="left:511.2px;top:565.1px;width:18.0px;height:14.3px;background:#ffffff;border:0.7px solid #c6c6c6;box-sizing:border-box;"></div>
<div class="lt" style="left:533.5px;top:564.4px;font-size:7.8px">Sin defunciones (5 municipio)</div>
<svg class="abs" style="left:281px;top:674px" width="20" height="16"><ellipse cx="10.2" cy="8.3" rx="6.4" ry="4.1" fill="#e8141c"/></svg>
<div class="abs" style="left:302.6px;top:664.6px;font-size:10.05px;line-height:12.8px;color:#0a0a0a;white-space:nowrap;word-spacing:-.7px">Municipios con incremento de<br>defunciones en las ultimas 24 hrs.</div>

<div class="banner" style="top:695.6px;height:60px"></div>
<div class="abs" style="left:60.4px;top:699px;font-size:7.2px;line-height:10px;color:#d9dcec;white-space:nowrap">FUENTE:&nbsp; Estadística estatal.</div>
<div class="inf" style="top:715.3px">INFORME TÉCNICO</div>
<div class="cov" style="top:708.7px">COVID-19</div>
<svg class="abs" style="left:588px;top:702.6px" width="92" height="38" viewBox="588 340 92 38">
 <path d="M597.7 344.3 Q607.5 341.6 617.3 344.3 L617.3 354.6 Q616.6 360.6 607.5 365.2 Q598.4 360.6 597.7 354.6Z" fill="#8f918d" stroke="#dfe2ec" stroke-width="1.1" stroke-linejoin="round"/>
 <path d="M600.6 346.9 Q607.5 345.2 614.4 346.9 L614.4 354.2 Q613.8 358.4 607.5 361.8 Q601.2 358.4 600.6 354.2Z" fill="#a3a5a1" stroke="#e3e5ea" stroke-width=".6"/>
 <path d="M602.6 348.6H612.4V353.8Q611.8 356.8 607.5 359.2Q603.2 356.8 602.6 353.8Z" fill="#c9cbc9"/>
 <path d="M602.6 351.4H612.4M607.5 348.6V359M604.3 349.8h1.6M609.2 349.8h1.6M604.3 353.6l1.5 1.6M610.6 353.6l-1.5 1.6" stroke="#77797a" stroke-width=".7" fill="none"/>
 <text x="607.5" y="370.5" text-anchor="middle" font-family="Liberation Sans, sans-serif" font-weight="bold" font-size="6.7" fill="#f4f5fb" textLength="33" lengthAdjust="spacingAndGlyphs">Chihuahua</text>
 <text x="607.5" y="373.7" text-anchor="middle" font-family="Liberation Sans, sans-serif" font-weight="bold" font-size="2.1" fill="#a9b0d8" textLength="33" lengthAdjust="spacingAndGlyphs">GOBIERNO DEL ESTADO</text>
 <rect x="632.3" y="342.2" width="1.7" height="33.2" fill="#eef0f7"/>
 <text x="640.9" y="357.4" font-family="Liberation Sans, sans-serif" font-size="4.8" fill="#dfe2f0" textLength="28.4" lengthAdjust="spacingAndGlyphs">SECRETARÍA</text>
 <text x="640.9" y="363.8" font-family="Liberation Sans, sans-serif" font-weight="bold" font-size="5.4" fill="#fff" stroke="#fff" stroke-width=".25" textLength="28" lengthAdjust="spacingAndGlyphs">DE SALUD</text>
</svg>

</div></div>

</body></html>
